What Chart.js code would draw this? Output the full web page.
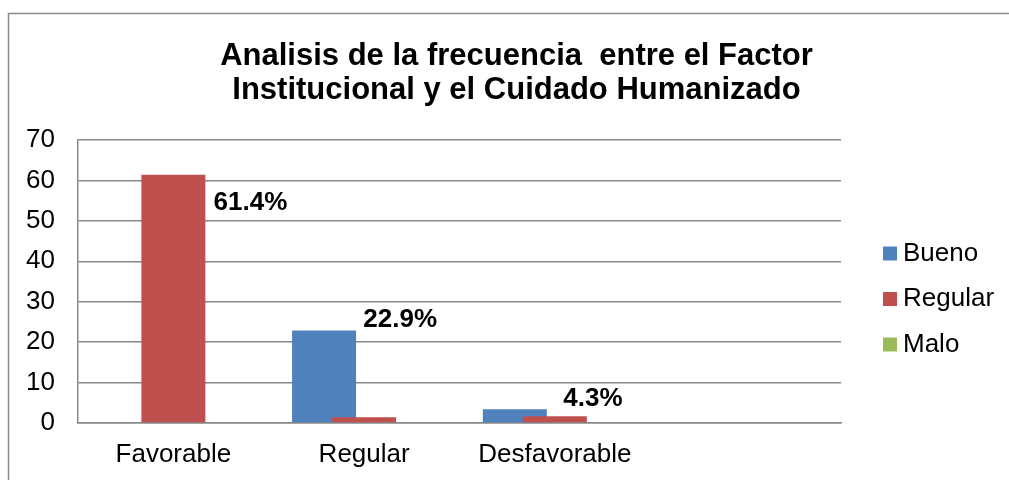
<!DOCTYPE html>
<html>
<head>
<meta charset="utf-8">
<script src="https://cdn.jsdelivr.net/npm/chart.js@4.4.1/dist/chart.umd.min.js"></script>
<style>
  html, body { margin: 0; padding: 0; background: #fff; overflow: hidden; }
  #wrap { width: 1009px; height: 480px; }
</style>
</head>
<body>
<div id="wrap"><canvas id="chart" width="1009" height="480"></canvas></div>
<script>
// Chart data
const categories = ['Favorable', 'Regular', 'Desfavorable'];
const seriesNames = ['Bueno', 'Regular', 'Malo'];
const bueno = [0, 22.9, 3.4];
const regular = [61.4, 1.4, 1.7];
const malo = [0, 0, 0];
const pctLabels = ['61.4%', '22.9%', '4.3%'];
const titleLines = ['Analisis de la frecuencia  entre el Factor', 'Institucional y el Cuidado Humanizado'];

const colors = ['#4F81BD', '#C0504D', '#9BBB59'];
const FONT = "'Liberation Sans', Arial, sans-serif";
const GRID = '#888888';

// Excel overlaps the bars of a group and leaves an empty 4th slot on the axis
const slotCount = 4;
const shift = [-0.21, 0, 0.21];

function toPoints(values, s) {
    return values.map((v, i) => ({ x: i + 0.5 + shift[s], y: v }));
}

// gray frame around the chart object
const framePlugin = {
    id: 'frame',
    beforeDraw(chart) {
        const ctx = chart.ctx;
        ctx.save();
        ctx.fillStyle = '#fff';
        ctx.fillRect(0, 0, chart.width, chart.height);
        ctx.strokeStyle = GRID;
        ctx.lineWidth = 1.5;
        ctx.strokeRect(8.5, 13.5, chart.width + 20, chart.height + 20);
        ctx.restore();
    }
};

// percent labels, placed by hand in the original
const labelNudge = [[37, 28], [-4, -11], [-2, -10]];
const pctPlugin = {
    id: 'pctLabels',
    afterDatasetsDraw(chart) {
        const ctx = chart.ctx;
        const y = chart.scales.y;
        const meta = chart.getDatasetMeta(2);
        ctx.save();
        ctx.font = 'bold 26px ' + FONT;
        ctx.fillStyle = '#000';
        ctx.textAlign = 'center';
        ctx.textBaseline = 'middle';
        categories.forEach((c, i) => {
            const top = Math.max(bueno[i], regular[i], malo[i]);
            const px = meta.data[i].x + labelNudge[i][0];
            const py = y.getPixelForValue(top) + labelNudge[i][1];
            ctx.fillText(pctLabels[i], px, py);
        });
        ctx.restore();
    }
};

// legend at the right side
const legendPlugin = {
    id: 'sideLegend',
    afterDraw(chart) {
        const ctx = chart.ctx;
        const area = chart.chartArea;
        const sets = chart.data.datasets;
        const rowGap = 45.5;
        const cy = (area.top + area.bottom) / 2 + 17.5;
        const x = area.right + 42;
        ctx.save();
        ctx.font = '26px ' + FONT;
        ctx.textBaseline = 'middle';
        ctx.textAlign = 'left';
        sets.forEach((ds, i) => {
            const yy = cy + (i - (sets.length - 1) / 2) * rowGap;
            ctx.fillStyle = ds.backgroundColor;
            ctx.fillRect(x, yy - 7, 14, 14);
            ctx.fillStyle = '#000';
            ctx.fillText(ds.label, x + 20, yy);
        });
        ctx.restore();
    }
};

new Chart(document.getElementById('chart'), {
    type: 'bar',
    data: {
        // later series sit on top of earlier ones, as in Excel
        datasets: [
            { label: seriesNames[0], data: toPoints(bueno, 0), backgroundColor: colors[0], order: 3 },
            { label: seriesNames[1], data: toPoints(regular, 1), backgroundColor: colors[1], order: 2 },
            { label: seriesNames[2], data: toPoints(malo, 2), backgroundColor: colors[2], order: 1 }
        ]
    },
    options: {
        responsive: false,
        animation: false,
        events: [],
        layout: { padding: { left: 26, right: 2, top: 0, bottom: 10 } },
        datasets: { bar: { grouped: false, barThickness: 64, borderWidth: 0, inflateAmount: 0 } },
        plugins: {
            legend: { display: false },
            tooltip: { enabled: false },
            title: {
                display: true,
                text: titleLines,
                color: '#000',
                font: { family: FONT, size: 31, weight: 'bold', lineHeight: '34px' },
                padding: { top: 39, bottom: 33 }
            }
        },
        scales: {
            x: {
                type: 'linear',
                min: 0,
                max: slotCount,
                offset: false,
                afterFit(s) { s.height = 47; },
                grid: { display: false, drawTicks: false },
                border: { color: GRID, width: 1.5 },
                afterBuildTicks(s) {
                    s.ticks = categories.map((c, i) => ({ value: i + 0.5 }));
                },
                ticks: {
                    padding: 16,
                    color: '#000',
                    font: { family: FONT, size: 26 },
                    maxRotation: 0,
                    autoSkip: false,
                    callback: (v) => categories[Math.floor(v)] || ''
                }
            },
            y: {
                min: 0,
                max: 70,
                afterFit(s) { s.width = 52; },
                grid: { color: GRID, lineWidth: 1.5, drawTicks: false },
                border: { color: GRID, width: 1.5 },
                ticks: {
                    stepSize: 10,
                    padding: 23,
                    color: '#000',
                    font: { family: FONT, size: 26 }
                }
            },
            legendSpace: {
                type: 'linear',
                position: 'right',
                afterFit(s) { s.width = 166; },
                grid: { display: false, drawTicks: false },
                border: { display: false },
                ticks: { display: false }
            }
        }
    },
    plugins: [framePlugin, pctPlugin, legendPlugin]
});
</script>
</body>
</html>
